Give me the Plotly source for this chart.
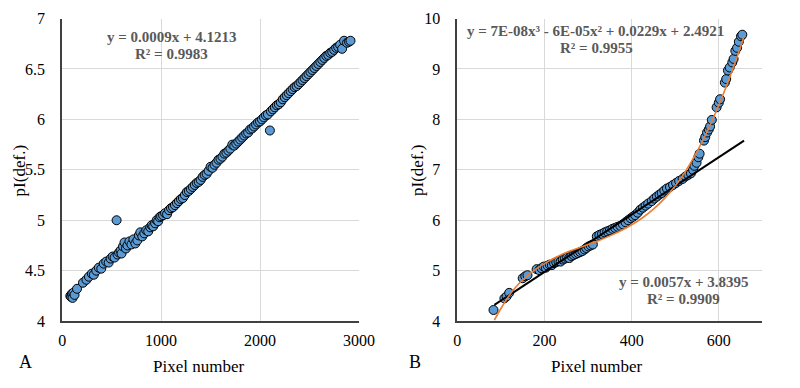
import plotly.graph_objects as go

# ---- Panel A data ----
a_x = [82, 90, 98, 105, 112, 125, 150, 210, 245, 270, 300, 320, 345, 370, 395, 420, 445, 470, 490, 510,
       530, 550, 560, 575, 590, 600, 615, 630, 645, 660, 680, 700, 720, 740, 760, 775, 790, 810, 830, 850,
       870, 890, 905, 920, 940, 955, 970, 985, 1000, 1020, 1040, 1060, 1080, 1100, 1120, 1140, 1160, 1180,
       1200, 1220, 1240, 1260, 1280, 1300, 1320, 1340, 1360, 1380, 1400, 1420, 1440, 1460, 1480, 1500,
       1520, 1540, 1560, 1580, 1600, 1620, 1640, 1660, 1680, 1700, 1720, 1740, 1760, 1780, 1800, 1820,
       1840, 1860, 1880, 1900, 1920, 1940, 1960, 1980, 2000, 2020, 2040, 2060, 2080, 2100, 2110, 2130,
       2150, 2170, 2190, 2210, 2230, 2250, 2270, 2290, 2310, 2330, 2350, 2370, 2390, 2410, 2430, 2450,
       2470, 2490, 2510, 2530, 2550, 2570, 2590, 2610, 2630, 2650, 2670, 2690, 2710, 2730, 2750, 2770,
       2790, 2810, 2830, 2850, 2880, 2900, 2915]
a_y = [4.25, 4.24, 4.27, 4.23, 4.28, 4.26, 4.32, 4.38, 4.41, 4.44, 4.47, 4.46, 4.50, 4.53, 4.52, 4.57,
       4.59, 4.58, 4.62, 4.64, 4.63, 5.00, 4.66, 4.68, 4.70, 4.67, 4.74, 4.78, 4.72, 4.75, 4.79, 4.76,
       4.81, 4.77, 4.80, 4.85, 4.88, 4.84, 4.87, 4.90, 4.89, 4.93, 4.95, 4.94, 4.97, 5.00, 4.99, 5.03,
       5.04, 5.05, 5.07, 5.06, 5.10, 5.12, 5.13, 5.15, 5.17, 5.19, 5.21, 5.22, 5.25, 5.28, 5.29, 5.31,
       5.33, 5.35, 5.37, 5.38, 5.40, 5.43, 5.45, 5.46, 5.49, 5.53, 5.52, 5.55, 5.57, 5.60, 5.61, 5.63,
       5.66, 5.67, 5.69, 5.71, 5.75, 5.74, 5.76, 5.78, 5.80, 5.82, 5.84, 5.86, 5.87, 5.90, 5.91, 5.93,
       5.95, 5.97, 5.98, 6.00, 6.02, 6.04, 6.05, 5.89, 6.08, 6.10, 6.12, 6.14, 6.15, 6.17, 6.20, 6.22,
       6.24, 6.26, 6.28, 6.30, 6.32, 6.33, 6.35, 6.37, 6.39, 6.41, 6.43, 6.45, 6.47, 6.49, 6.51, 6.53,
       6.55, 6.57, 6.59, 6.61, 6.63, 6.64, 6.66, 6.67, 6.69, 6.71, 6.72, 6.74, 6.70, 6.78, 6.76, 6.77,
       6.78]

# ---- Panel B data ----
b_x = [83, 108, 113, 119, 150, 156, 161, 182, 188, 193, 198, 203, 207, 212, 217, 222, 227, 232, 237,
       242, 247, 252, 257, 262, 267, 272, 277, 282, 287, 292, 296, 301, 306, 311, 320, 326, 332, 338,
       344, 350, 356, 362, 368, 374, 380, 386, 392, 398, 403, 408, 414, 420, 426, 432, 438, 446, 452,
       458, 464, 469, 475, 481, 488, 495, 502, 509, 517, 524, 530, 536, 541, 544, 549, 553, 556, 566,
       569, 573, 577, 580, 584, 595, 600, 603, 614, 617, 621, 625, 631, 634, 638, 642, 646, 651, 654]
b_y = [4.22, 4.45, 4.49, 4.56, 4.85, 4.89, 4.91, 5.03, 5.01, 5.05, 5.08, 5.06, 5.10, 5.12, 5.11, 5.15,
       5.17, 5.19, 5.18, 5.22, 5.24, 5.26, 5.25, 5.29, 5.31, 5.33, 5.35, 5.37, 5.39, 5.42, 5.45, 5.48,
       5.50, 5.52, 5.68, 5.71, 5.73, 5.76, 5.78, 5.80, 5.83, 5.85, 5.87, 5.89, 5.92, 5.96, 6.00, 6.04,
       6.07, 6.10, 6.15, 6.21, 6.25, 6.29, 6.33, 6.38, 6.43, 6.47, 6.51, 6.54, 6.59, 6.63, 6.66, 6.70,
       6.74, 6.78, 6.82, 6.87, 6.90, 6.93, 7.00, 7.08, 7.14, 7.25, 7.32, 7.58, 7.65, 7.74, 7.80, 7.86,
       7.99, 8.24, 8.33, 8.40, 8.73, 8.80, 8.97, 9.03, 9.13, 9.20, 9.36, 9.42, 9.54, 9.65, 9.68]
b_lin_x = [85, 658]
b_lin_y = [4.32, 7.58]
b_poly_x = [85, 100, 120, 140, 160, 180, 200, 225, 250, 275, 300, 325, 350, 375, 400, 425, 450, 475,
            500, 525, 550, 575, 600, 625, 650, 658]
b_poly_y = [4.02, 4.25, 4.52, 4.73, 4.89, 5.03, 5.14, 5.26, 5.36, 5.44, 5.52, 5.60, 5.69, 5.79, 5.91,
            6.05, 6.22, 6.43, 6.68, 6.99, 7.36, 7.79, 8.28, 8.83, 9.44, 9.65]

FONT = "Liberation Serif"
MARK = dict(color="#5B9BD5", size=9, line=dict(color="black", width=1))

# The page adds an 8px body margin, so the figure is sized to fit the 800x388 window
W, H, M = 784, 372, 8
def PX(x):
    return (x - M) / W
def PY(y):
    return 1 - (y - M) / H

fig = go.Figure()
fig.add_trace(go.Scatter(x=a_x, y=a_y, mode="markers", marker=MARK, xaxis="x", yaxis="y"))
fig.add_trace(go.Scatter(x=b_x, y=b_y, mode="markers", marker=MARK, xaxis="x2", yaxis="y2"))
fig.add_trace(go.Scatter(x=b_lin_x, y=b_lin_y, mode="lines",
                         line=dict(color="black", width=2), xaxis="x2", yaxis="y2"))
fig.add_trace(go.Scatter(x=b_poly_x, y=b_poly_y, mode="lines", line_shape="spline",
                         line=dict(color="#ED7D31", width=1.6), xaxis="x2", yaxis="y2"))

axis_common = dict(showgrid=True, gridcolor="#d9d9d9", gridwidth=1, zeroline=False,
                   showline=True, linecolor="#404040", linewidth=2,
                   tickfont=dict(family=FONT, size=16, color="black"), ticks="",
                   ticklabeloverflow="allow")
ydom = [PY(327.7), PY(10.7)]
fig.update_layout(
    width=W, height=H, margin=dict(l=0, r=0, t=0, b=0),
    paper_bgcolor="white", plot_bgcolor="white", showlegend=False,
    xaxis=dict(domain=[PX(59.5), PX(364)], range=[0, 3000], dtick=1000, anchor="y",
               ticklabelstandoff=4, **axis_common),
    yaxis=dict(domain=ydom, range=[4, 7], dtick=0.5, anchor="x",
               ticklabelstandoff=12, **axis_common),
    xaxis2=dict(domain=[PX(465), PX(778)], range=[0, 700], dtick=200, anchor="y2",
                ticklabelstandoff=4, **axis_common),
    yaxis2=dict(domain=ydom, range=[4, 10], dtick=1, anchor="x2",
                ticklabelstandoff=12, **axis_common),
)

def ann(text, px, py, size=15, bold=True, color="#595959", angle=0):
    fig.add_annotation(text=f"<b>{text}</b>" if bold else text, x=PX(px), y=PY(py),
                       xref="paper", yref="paper", showarrow=False, textangle=angle,
                       xanchor="center", yanchor="middle",
                       font=dict(family=FONT, size=size, color=color))

ann("y = 0.0009x + 4.1213", 172, 30)
ann("R² = 0.9983", 172, 48)
ann("y = 7E-08x³ - 6E-05x² + 0.0229x + 2.4921", 607, 24)
ann("R² = 0.9955", 607.5, 42)
ann("y = 0.0057x + 3.8395", 697.5, 287)
ann("R² = 0.9909", 697.5, 305)
ann("Pixel number", 199, 375, size=17, bold=False, color="black")
ann("Pixel number", 608, 375, size=17, bold=False, color="black")
ann("pI(def.)", 16, 170, size=17, bold=False, color="black", angle=-90)
ann("pI(def.)", 424, 170, size=17, bold=False, color="black", angle=-90)
ann("A", 22, 371, size=18, bold=False, color="black")
ann("B", 422, 371, size=18, bold=False, color="black")

fig.write_html("out.html")
